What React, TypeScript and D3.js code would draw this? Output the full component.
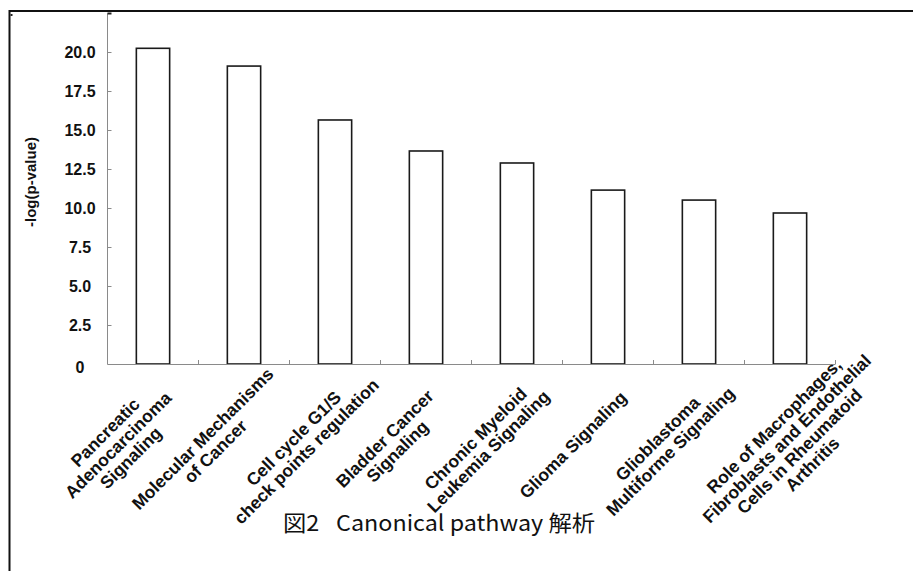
import React from "react";
import * as d3 from "d3";

const categories: string[] = [
  "Pancreatic\nAdenocarcinoma\nSignaling",
  "Molecular Mechanisms\nof Cancer",
  "Cell cycle G1/S\ncheck points regulation",
  "Bladder Cancer\nSignaling",
  "Chronic Myeloid\nLeukemia Signaling",
  "Glioma Signaling",
  "Glioblastoma\nMultiforme Signaling",
  "Role of Macrophages,\nFibroblasts and Endothelial\nCells in Rheumatoid\nArthritis",
];
const values: number[] = [20.26, 19.12, 15.66, 13.67, 12.9, 11.16, 10.52, 9.69];
const yTickValues: number[] = [0, 2.5, 5, 7.5, 10, 12.5, 15, 17.5, 20];
const yTickLabels: string[] = ["0", "2.5", "5.0", "7.5", "10.0", "12.5", "15.0", "17.5", "20.0"];
const yAxisTitle = "-log(p-value)";
const caption = "図2\u2002 Canonical pathway 解析";

const W = 913;
const H = 571;
const FONT = "'Liberation Sans', Arial, sans-serif";
const LABEL_FONT_SIZE = 17.5;

let measureCtx: CanvasRenderingContext2D | null = null;
function textWidth(s: string): number {
  if (!measureCtx) {
    const c = document.createElement("canvas");
    measureCtx = c.getContext("2d");
  }
  if (!measureCtx) return s.length * LABEL_FONT_SIZE * 0.6;
  measureCtx.font = `bold ${LABEL_FONT_SIZE}px 'Liberation Sans', Arial, sans-serif`;
  return measureCtx.measureText(s).width;
}

export default function App() {
  const x = d3.scaleBand<number>().domain(d3.range(categories.length)).range([107.5, 835.5]).padding(0);
  const y = d3.scaleLinear().domain([0, 22.5]).range([364, 13.4]);
  const bw = x.bandwidth() * 0.366;
  const axisColor = "#8a8a8a";
  const lineH = 18;
  const axisY = y(0);
  const axisEnd = x.range()[1];
  const c45 = Math.SQRT1_2;

  return (
    <div>
      <style>{`body{margin:0;background:#fff}`}</style>
      <svg width={W} height={H} style={{ display: "block", background: "#fff" }}>
        {/* frame */}
        <line x1={9.5} y1={11} x2={W} y2={11} stroke="#111" strokeWidth={2} />
        <line x1={9.5} y1={10} x2={9.5} y2={H} stroke="#111" strokeWidth={2} />
        <rect x={10.5} y={14} width={2} height={2} fill="#222" />

        {/* y axis */}
        <line x1={107.5} y1={y(22.5)} x2={107.5} y2={axisY} stroke={axisColor} strokeWidth={1} />
        {[...yTickValues, 22.5].map((v, i) => (
          <line key={"yt" + i} x1={107.5} x2={111.5} y1={Math.round(y(v)) + 0.5} y2={Math.round(y(v)) + 0.5}
            stroke={v === 22.5 ? "#222" : axisColor} strokeWidth={v === 22.5 ? 2 : 1} />
        ))}
        {yTickValues.map((v, i) => (
          <text key={"yl" + i} x={80} y={y(v) + (v === 0 ? 3 : 0)} dy="0.36em" textAnchor="middle"
            fontFamily={FONT} fontWeight="bold" fontSize={16} fill="#111">
            {yTickLabels[i]}
          </text>
        ))}
        <text transform={`translate(36,182) rotate(-90)`} textAnchor="middle" fontFamily={FONT}
          fontWeight="bold" fontSize={15} fill="#111">
          {yAxisTitle}
        </text>

        {/* bars */}
        {values.map((v, i) => {
          const cx = (x(i) as number) + x.bandwidth() / 2;
          return (
            <rect key={"b" + i} x={cx - bw / 2} y={y(v)} width={bw} height={axisY - y(v)}
              fill="#fff" stroke="#1a1a1a" strokeWidth={1.6} />
          );
        })}

        {/* x axis */}
        <line x1={107.5} x2={axisEnd} y1={axisY + 0.5} y2={axisY + 0.5} stroke={axisColor} strokeWidth={1.2} />
        {categories.map((_, i) => {
          const xe = (x(i) as number) + x.bandwidth();
          return <line key={"xt" + i} x1={xe} x2={xe} y1={axisY} y2={axisY - 4} stroke={axisColor} strokeWidth={1} />;
        })}

        {/* category labels */}
        {categories.map((c, i) => {
          const cx = (x(i) as number) + x.bandwidth() / 2;
          const lines = c.split("\n");
          const n = lines.length;
          let bx = cx - 35;
          const by = axisY + 81;
          // collision avoidance: if the first line's end rises above the axis, push block right
          const w0 = textWidth(lines[0]);
          const top0 = -((n - 1) / 2) * lineH - LABEL_FONT_SIZE * 0.7;
          const endY = by + (-w0 / 2 + top0) * c45;
          if (endY < axisY - 5) {
            bx += (axisY + 8 - endY) * 2;
          }
          return (
            <g key={"cl" + i} transform={`translate(${bx},${by}) rotate(-45)`}>
              {lines.map((ln, k) => (
                <text key={k} x={0} y={(k - (n - 1) / 2) * lineH} dy="0.35em" textAnchor="middle"
                  fontFamily={FONT} fontWeight="bold" fontSize={LABEL_FONT_SIZE} fill="#111">
                  {ln}
                </text>
              ))}
            </g>
          );
        })}

        {/* caption */}
        <text x={283} y={531} fontFamily="'Noto Sans CJK JP', sans-serif" fontSize={22} fill="#111"
          textLength={312} lengthAdjust="spacingAndGlyphs" style={{ whiteSpace: "pre" }}>
          {caption}
        </text>
      </svg>
    </div>
  );
}
